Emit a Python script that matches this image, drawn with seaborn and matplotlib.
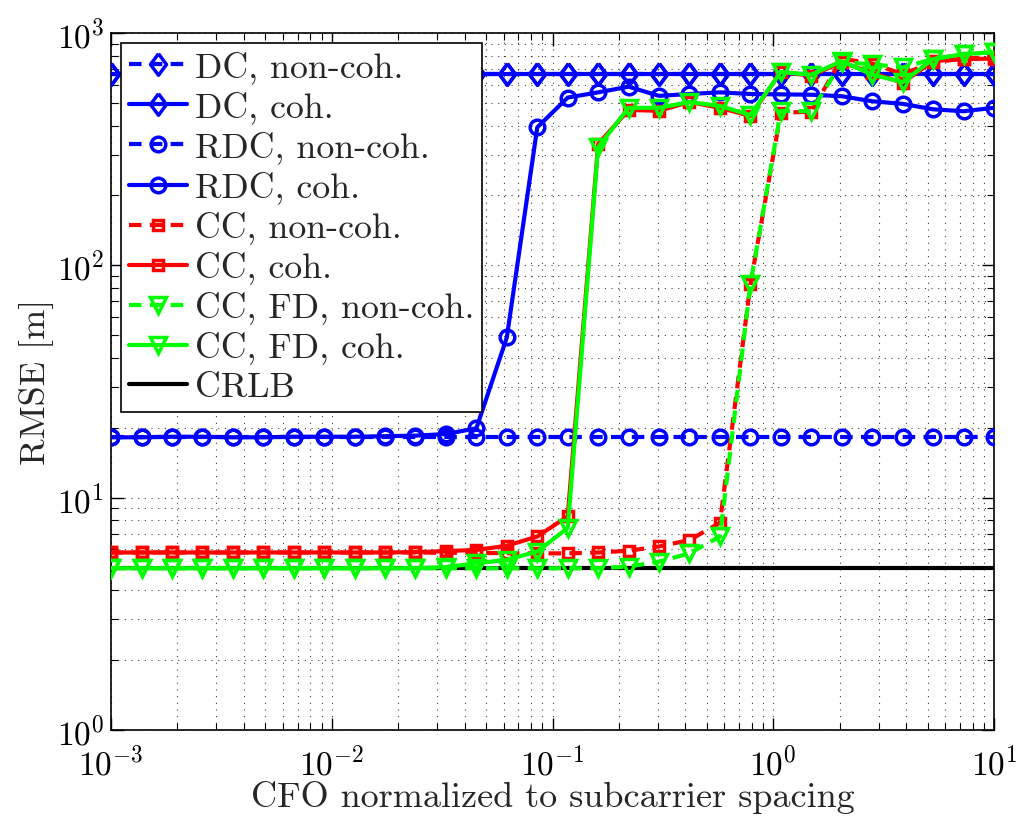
import matplotlib
matplotlib.use('Agg')
import matplotlib.pyplot as plt
import seaborn as sns
import numpy as np
import pandas as pd

sns.set_style('ticks')
plt.rcParams['font.family'] = ['serif']
plt.rcParams['font.serif'] = ['cmr10', 'DejaVu Serif']
plt.rcParams['mathtext.fontset'] = 'cm'
plt.rcParams['axes.formatter.use_mathtext'] = True
plt.rcParams['axes.unicode_minus'] = False

# CFO normalized to subcarrier spacing (30 log-spaced points)
x_cfo = [0.001, 0.001374, 0.001888, 0.002594, 0.003565, 0.004898, 0.00673, 0.009247,
         0.01269, 0.01743, 0.02395, 0.0329, 0.0452, 0.0621, 0.08531, 0.1172, 0.161,
         0.2212, 0.3039, 0.4175, 0.5736, 0.788, 1.0826, 1.487, 2.043, 2.807, 3.857,
         5.298, 7.279, 10.0]

# RMSE [m]
dc_noncoh = [665, 665, 665, 665, 665, 665, 665, 665, 665, 665, 665, 665, 665, 665, 665,
             665, 665, 665, 665, 665, 665, 665, 665, 665, 665, 665, 665, 665, 665, 665]
dc_coh = [665, 665, 665, 665, 665, 665, 665, 665, 665, 665, 665, 665, 665, 665, 665,
          665, 665, 665, 665, 665, 665, 665, 665, 665, 665, 665, 665, 665, 665, 665]
rdc_noncoh = [18.2, 18.2, 18.2, 18.2, 18.2, 18.2, 18.2, 18.2, 18.2, 18.2, 18.2, 18.2,
              18.2, 18.2, 18.2, 18.2, 18.2, 18.2, 18.2, 18.2, 18.2, 18.2, 18.2, 18.2,
              18.2, 18.2, 18.2, 18.2, 18.2, 18.2]
rdc_coh = [18.2, 18.2, 18.3, 18.3, 18.2, 18.2, 18.3, 18.3, 18.3, 18.4, 18.5, 18.8, 19.9,
           49, 393, 528, 556, 588, 537, 547, 556, 547, 545, 543, 535, 509, 496, 470, 461,
           477]
cc_noncoh = [5.81, 5.81, 5.81, 5.81, 5.81, 5.81, 5.81, 5.81, 5.81, 5.81, 5.81, 5.79,
             5.79, 5.77, 5.76, 5.76, 5.81, 5.91, 6.17, 6.57, 7.8, 82.8, 454, 459, 777,
             740, 666, 749, 777, 790]
cc_coh = [5.81, 5.81, 5.81, 5.81, 5.81, 5.81, 5.81, 5.81, 5.81, 5.81, 5.83, 5.89, 5.96,
          6.21, 6.81, 8.31, 333, 467, 463, 505, 477, 440, 680, 657, 749, 675, 611, 758,
          773, 777]
ccfd_noncoh = [4.97, 4.97, 4.97, 4.97, 4.97, 4.97, 4.97, 4.97, 4.97, 4.97, 4.97, 4.97,
               4.97, 4.97, 4.97, 4.97, 4.97, 5.05, 5.31, 5.76, 6.81, 82.8, 463, 461, 749,
               735, 712, 773, 813, 827]
ccfd_coh = [4.97, 4.97, 4.97, 4.97, 4.97, 4.97, 4.97, 4.97, 4.97, 4.97, 4.97, 5.03,
            5.21, 5.41, 5.86, 7.41, 323, 477, 477, 505, 486, 444, 680, 662, 758, 662, 616,
            773, 813, 827]
crlb = [4.96, 4.96, 4.96, 4.96, 4.96, 4.96, 4.96, 4.96, 4.96, 4.96, 4.96, 4.96, 4.96,
        4.96, 4.96, 4.96, 4.96, 4.96, 4.96, 4.96, 4.96, 4.96, 4.96, 4.96, 4.96, 4.96,
        4.96, 4.96, 4.96, 4.96]

labels = ['DC, non-coh.', 'DC, coh.', 'RDC, non-coh.', 'RDC, coh.', 'CC, non-coh.',
          'CC, coh.', 'CC, FD, non-coh.', 'CC, FD, coh.', 'CRLB']

# MATLAB style diamond (taller than wide)
diamond = [(0, 1), (0.74, 0), (0, -1), (-0.74, 0), (0, 1)]
dash = (0, (3.0, 2.0))
# values, color, linestyle, marker, markersize
series = [
    (dc_noncoh, 'blue', dash, diamond, 15.5),
    (dc_coh, 'blue', '-', diamond, 15.5),
    (rdc_noncoh, 'blue', dash, 'o', 10.5),
    (rdc_coh, 'blue', '-', 'o', 10.5),
    (cc_noncoh, 'red', dash, 's', 7.8),
    (cc_coh, 'red', '-', 's', 7.8),
    (ccfd_noncoh, 'lime', dash, 'v', 12),
    (ccfd_coh, 'lime', '-', 'v', 12),
]

fig = plt.figure(figsize=(10.16, 8.16), dpi=100)
ax = fig.add_axes([0.1093, 0.1054, 0.869, 0.854])

# CRLB drawn first so the curves sit on top
sns.lineplot(x=x_cfo, y=crlb, ax=ax, color='black', linewidth=3.0, label=labels[8],
             zorder=2, sort=False, errorbar=None)
for i, (vals, col, ls, mk, ms) in enumerate(series):
    sns.lineplot(x=x_cfo, y=vals, ax=ax, color=col, linestyle=ls, linewidth=3.0,
                 marker=mk, markersize=ms, markerfacecolor='none',
                 markeredgecolor=col, markeredgewidth=2.5, label=labels[i],
                 zorder=3 + i, sort=False, errorbar=None)

ax.set_xscale('log')
ax.set_yscale('log')
ax.set_xlim(1e-3, 1e1)
ax.set_ylim(1e0, 1e3)

ax.grid(True, which='both', color='0.25', linestyle=(0, (1, 5)), linewidth=0.8)
ax.tick_params(which='both', direction='in', top=True, right=True, labelsize=24,
               colors='black')
ax.tick_params(axis='x', which='major', length=9, width=1, pad=11)
ax.tick_params(axis='y', which='major', length=9, width=1, pad=5)
ax.tick_params(which='minor', length=5, width=0.8)
for sp in ax.spines.values():
    sp.set_color('black')
    sp.set_linewidth(1.2)

ax.set_xlabel('CFO normalized to subcarrier spacing', fontsize=26, labelpad=0)
ax.set_ylabel('RMSE [m]', fontsize=26, labelpad=2)

# legend order follows the original figure
handles, labs = ax.get_legend_handles_labels()
order = [labs.index(l) for l in labels]
leg = ax.legend([handles[k] for k in order], [labs[k] for k in order],
                loc='upper left', bbox_to_anchor=(0.0113, 0.9857), borderaxespad=0,
                fontsize=25.8, labelspacing=0.2, handlelength=1.62,
                handletextpad=0.22, borderpad=0.22, numpoints=1, fancybox=False,
                framealpha=1, edgecolor='black')
leg.get_frame().set_linewidth(1.2)
leg.set_zorder(20)

plt.savefig('out.png', dpi=100)
